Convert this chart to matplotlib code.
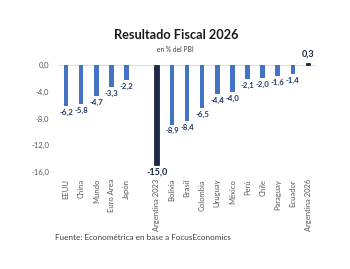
import matplotlib
matplotlib.use("Agg")
import matplotlib.pyplot as plt

categories = ["EEUU", "China", "Mundo", "Euro Area", "Japón", "",
              "Argentina 2023", "Bolivia", "Brasil", "Colombia", "Uruguay",
              "México", "Perú", "Chile", "Paraguay", "Ecuador", "Argentina 2026"]
values = [-6.2, -5.8, -4.7, -3.3, -2.2, None,
          -15.0, -8.9, -8.4, -6.5, -4.4, -4.0, -2.1, -2.0, -1.6, -1.4, 0.3]
highlight = ["Argentina 2023", "Argentina 2026"]
yticks = [0, -4, -8, -12, -16]

plt.rcParams['font.family'] = ['Lato', 'DejaVu Sans']

W, H = 350, 269
fig = plt.figure(figsize=(W / 100, H / 100), dpi=100)

px = 15.125
x_left = 66 - 0.55 * px
ax_w = 17.1 * px
y0, y16 = 65, 172
ymax = 0.6
ax_top = y0 - ymax * (y16 - y0) / 16
ax = fig.add_axes([x_left / W, 1 - y16 / H, ax_w / W, (y16 - ax_top) / H])

blue = "#4472C4"
navy = "#1B2A4A"
label_c = "#1F3864"
for i, (c, v) in enumerate(zip(categories, values)):
    if v is None:
        continue
    hl = c in highlight
    ax.bar(i, v, width=0.3, color=navy if hl else blue,
           edgecolor="#0b1020" if hl else blue, linewidth=0.5 if hl else 0, zorder=3)
    txt = f"{v:.1f}".replace(".", ",")
    if v < 0:
        ax.annotate(txt, (i, v), xytext=(0, -2), textcoords="offset points",
                    ha="center", va="top", fontsize=6.5 if hl else 5.6,
                    fontweight="bold", color=label_c if not hl else "#162447")
    else:
        ax.annotate(txt, (i, v), xytext=(0, 3), textcoords="offset points",
                    ha="center", va="bottom", fontsize=6.5,
                    fontweight="bold", color="#162447")

ax.set_xlim(-0.55, 16.55)
ax.set_ylim(-16, ymax)
ax.axhline(0, color="#e0e0e0", linewidth=0.8, zorder=1)
ax.set_yticks(yticks)
ax.set_yticklabels([f"{t:.1f}".replace(".", ",") for t in yticks],
                   fontsize=5.5, color="#595959")
ax.set_xticks(range(len(categories)))
ax.set_xticklabels(categories, rotation=90, fontsize=5.5, color="#595959")
ax.tick_params(axis="both", length=0)
ax.tick_params(axis="y", pad=6)
ax.tick_params(axis="x", pad=5)
for s in ax.spines.values():
    s.set_visible(False)

fig.text(176 / W, 1 - 35 / H, "Resultado Fiscal 2026", ha="center", va="center",
         fontsize=9.2, fontweight="bold", color="#1a1a1a")
fig.text(175 / W, 1 - 49 / H, "en % del PBI", ha="center", va="center",
         fontsize=4.8, color="#404040")
fig.text(55 / W, 1 - 238 / H, "Fuente: Econométrica en base a FocusEconomics",
         ha="left", va="center", fontsize=5.9, color="#404040")

fig.savefig("out.png", dpi=100)
